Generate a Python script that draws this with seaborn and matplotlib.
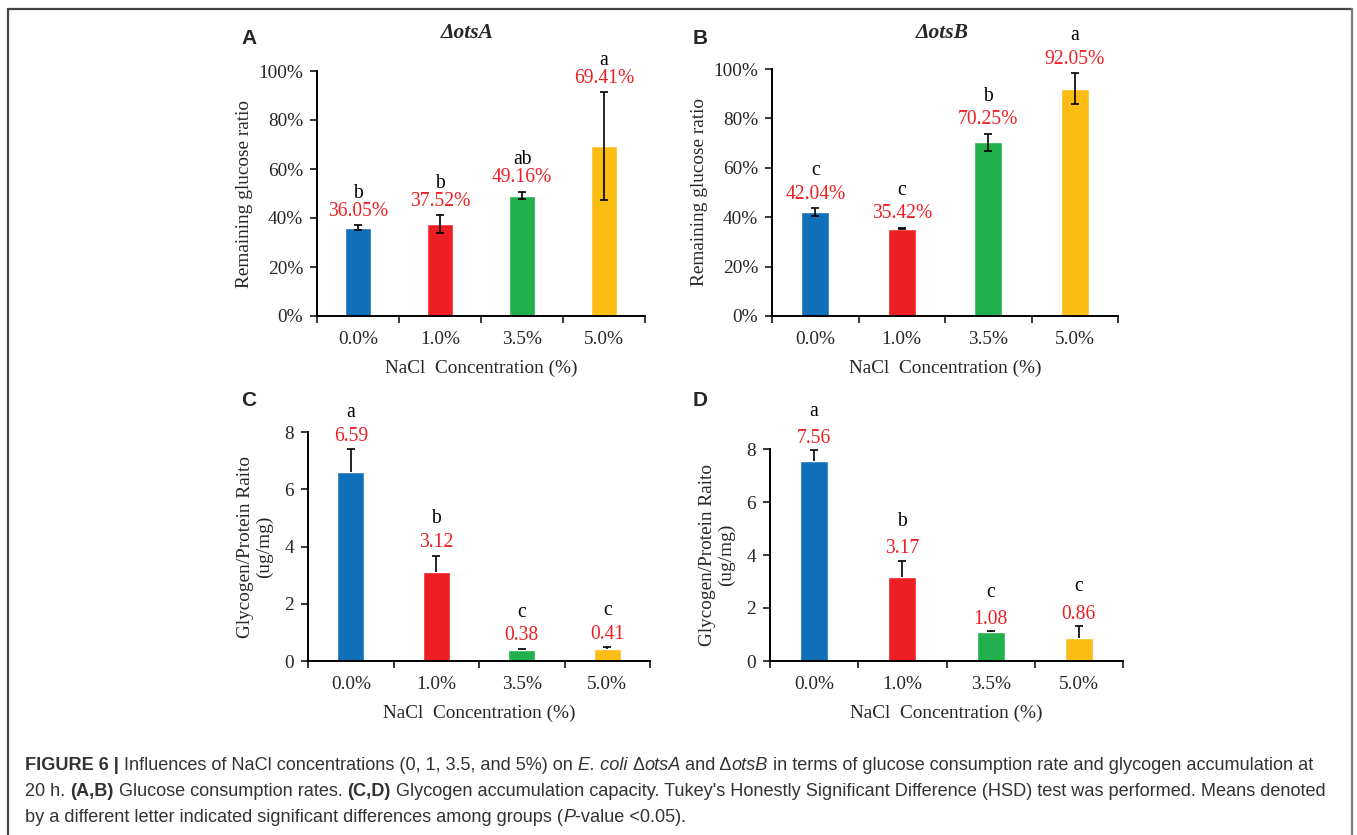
import matplotlib
matplotlib.use("Agg")
import matplotlib.pyplot as plt
from matplotlib.ticker import PercentFormatter, FixedLocator
from matplotlib.lines import Line2D
import seaborn as sns
import numpy as np
import pandas as pd

# ---- data ----
nacl = ["0.0%", "1.0%", "3.5%", "5.0%"]
bar_colors = ["#1170BA", "#EE1F24", "#21B04B", "#FBBD13"]

glucose_otsA = [36.05, 37.52, 49.16, 69.41]
glucose_otsA_err = [1.0, 3.6, 1.6, 22.0]
letters_otsA = ["b", "b", "ab", "a"]

glucose_otsB = [42.04, 35.42, 70.25, 92.05]
glucose_otsB_err = [1.6, 0.3, 3.6, 6.2]
letters_otsB = ["c", "c", "b", "a"]

glycogen_otsA = [6.59, 3.12, 0.38, 0.41]
glycogen_otsA_err = [0.80, 0.56, 0.05, 0.07]
letters_gly_otsA = ["a", "b", "c", "c"]

glycogen_otsB = [7.56, 3.17, 1.08, 0.86]
glycogen_otsB_err = [0.40, 0.62, 0.05, 0.46]
letters_gly_otsB = ["a", "b", "c", "c"]

sns.set_style("ticks")
plt.rcParams["font.family"] = ["Liberation Serif", "DejaVu Serif"]
plt.rcParams["axes.linewidth"] = 1.4

W, H = 1357, 835
fig = plt.figure(figsize=(W / 100, H / 100), dpi=100)

FS = 13.9


def px_axes(left, right, top, bottom):
    return fig.add_axes([left / W, 1 - bottom / H, (right - left) / W, (bottom - top) / H])


def draw_panel(ax, values, errors, letters, one_sided, fmt, label_pad, letter_pad):
    df = pd.DataFrame({"nacl": nacl, "value": values})
    sns.barplot(data=df, x="nacl", y="value", hue="nacl", palette=bar_colors,
                width=0.32, saturation=1, legend=False, ax=ax)
    xs = np.arange(len(values))
    err = np.array(errors)
    yerr = [np.zeros_like(err), err] if one_sided else err
    eb = ax.errorbar(xs, values, yerr=yerr, fmt="none", ecolor="black",
                     elinewidth=1.2, capsize=2.6, capthick=1.2, zorder=3)
    if one_sided:
        # only the upper cap is drawn in the original
        eb.lines[1][0].set_visible(False)
    for x, v, e, let in zip(xs, values, err, letters):
        ax.annotate(fmt.format(v), (x, v + e), xytext=(0, label_pad),
                    textcoords="offset points", ha="center", va="center",
                    color="#EE1F24", fontsize=FS + 0.2, annotation_clip=False)
        ax.annotate(let, (x, v + e), xytext=(0, label_pad + letter_pad),
                    textcoords="offset points", ha="center", va="center",
                    color="black", fontsize=FS + 0.2, annotation_clip=False)

    ax.set_xlim(-0.5, 3.5)
    ax.xaxis.set_minor_locator(FixedLocator([-0.5, 0.5, 1.5, 2.5, 3.5]))
    ax.tick_params(axis="x", which="major", length=0, pad=11, labelsize=FS)
    ax.tick_params(axis="x", which="minor", length=5, width=1.3, direction="out")
    ax.tick_params(axis="y", length=5, width=1.3, direction="out", pad=5, labelsize=FS)
    ax.set_xlabel("NaCl  Concentration (%)", fontsize=FS, labelpad=8)
    sns.despine(ax=ax)
    for s in ["left", "bottom"]:
        ax.spines[s].set_color("black")


# panel A
axA = px_axes(317, 645, 71, 316)
draw_panel(axA, glucose_otsA, glucose_otsA_err, letters_otsA, False, "{:.2f}%", 10, 13)
axA.set_ylim(0, 100)
axA.set_yticks(range(0, 101, 20))
axA.yaxis.set_major_formatter(PercentFormatter(decimals=0))
axA.set_ylabel("Remaining glucose ratio", fontsize=FS, labelpad=4)

# panel B
axB = px_axes(772, 1118, 69, 316)
draw_panel(axB, glucose_otsB, glucose_otsB_err, letters_otsB, False, "{:.2f}%", 10, 17)
axB.set_ylim(0, 100)
axB.set_yticks(range(0, 101, 20))
axB.yaxis.set_major_formatter(PercentFormatter(decimals=0))
axB.set_ylabel("Remaining glucose ratio", fontsize=FS, labelpad=4)

# panel C
axC = px_axes(308, 650, 432, 661)
draw_panel(axC, glycogen_otsA, glycogen_otsA_err, letters_gly_otsA, True, "{:.2f}", 9.4, 17)
axC.set_ylim(0, 8)
axC.set_yticks(range(0, 9, 2))
axC.set_ylabel("Glycogen/Protein Raito\n(ug/mg)", fontsize=FS, labelpad=8, linespacing=1.15)

# panel D
axD = px_axes(770, 1123, 449, 661)
draw_panel(axD, glycogen_otsB, glycogen_otsB_err, letters_gly_otsB, True, "{:.2f}", 8.6, 19.5)
axD.set_ylim(0, 8)
axD.set_yticks(range(0, 9, 2))
axD.set_ylabel("Glycogen/Protein Raito\n(ug/mg)", fontsize=FS, labelpad=8, linespacing=1.15)

# panel letters and titles
for letter, x, y in [("A", 249, 38), ("B", 700, 38), ("C", 249, 401), ("D", 700, 401)]:
    fig.text(x / W, 1 - y / H, letter, ha="center", va="center", fontsize=15,
             fontweight="bold", family=["Liberation Sans", "DejaVu Sans"])
fig.text(467 / W, 1 - 33 / H, "ΔotsA", ha="center", va="center", fontsize=15.5,
         fontweight="bold", fontstyle="italic")
fig.text(942 / W, 1 - 33 / H, "ΔotsB", ha="center", va="center", fontsize=15.5,
         fontweight="bold", fontstyle="italic")

# frame around the figure
frame_kw = dict(transform=fig.transFigure, lw=1.6)
fig.add_artist(Line2D([8 / W, 1352 / W], [1 - 9 / H, 1 - 9 / H], color="#444444", **frame_kw))
fig.add_artist(Line2D([8 / W, 8 / W], [1 - 9 / H, 0], color="#444444", **frame_kw))
fig.add_artist(Line2D([1352 / W, 1352 / W], [1 - 9 / H, 0], color="#7a7a7a", **frame_kw))

# caption, written piece by piece to mix bold and italic
cap_font = ["Liberation Sans", "DejaVu Sans"]
cap_size = 13.1
cap_color = "#333333"
renderer = fig.canvas.get_renderer()


def text_width(s, **kw):
    t = fig.text(0, 0, s, fontsize=cap_size, family=cap_font, **kw)
    w = t.get_window_extent(renderer).width
    t.remove()
    return w


space_w = text_width("a a") - text_width("aa")


def caption_line(y, pieces, x=25):
    for s, style in pieces:
        kw = {}
        if style == "b":
            kw["fontweight"] = "bold"
        elif style == "i":
            kw["fontstyle"] = "italic"
        lead = len(s) - len(s.lstrip(" "))
        trail = len(s) - len(s.rstrip(" "))
        core = s.strip(" ")
        x += lead * space_w
        if core:
            fig.text(x / W, 1 - y / H, core, fontsize=cap_size, family=cap_font,
                     color=cap_color, va="center", ha="left", **kw)
            x += text_width(core, **kw)
        x += trail * space_w


caption_line(766, [("FIGURE 6 | ", "b"),
                   ("Influences of NaCl concentrations (0, 1, 3.5, and 5%) on ", "n"),
                   ("E. coli", "i"), (" Δ", "n"), ("otsA", "i"), (" and Δ", "n"),
                   ("otsB", "i"),
                   (" in terms of glucose consumption rate and glycogen accumulation at", "n")])
caption_line(792, [("20 h. ", "n"), ("(A,B)", "b"), (" Glucose consumption rates. ", "n"),
                   ("(C,D)", "b"),
                   (" Glycogen accumulation capacity. Tukey's Honestly Significant Difference (HSD) test was performed. Means denoted", "n")])
caption_line(817, [("by a different letter indicated significant differences among groups (", "n"),
                   ("P", "i"), ("-value <0.05).", "n")])

fig.savefig("out.png", dpi=100)
